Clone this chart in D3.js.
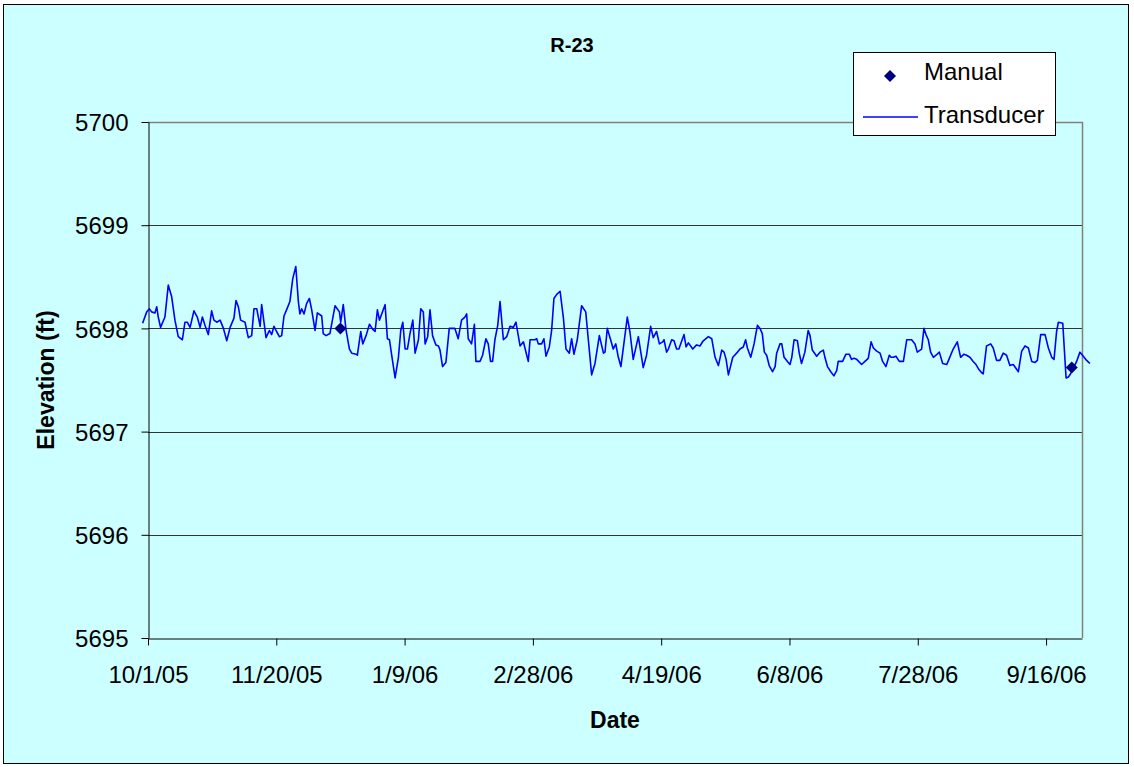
<!DOCTYPE html>
<html>
<head>
<meta charset="utf-8">
<script src="https://cdn.jsdelivr.net/npm/d3@7"></script>
<style>
  html, body { margin: 0; padding: 0; background: #ffffff; }
  svg { display: block; font-family: "Liberation Sans", Arial, sans-serif; }
</style>
</head>
<body>
<svg id="chart" width="1134" height="767"></svg>
<script>
// ---- data ----
const chartTitle = "R-23";
const xTitle = "Date";
const yTitle = "Elevation (ft)";
const startDate = "2005-10-01";          // day 0 of the transducer record
const axisStart = "2005-10-01";
const axisEnd = "2006-09-30";
const xTickDates = ["2005-10-01","2005-11-20","2006-01-09","2006-02-28","2006-04-19","2006-06-08","2006-07-28","2006-09-16"];
const yTickValues = [5695, 5696, 5697, 5698, 5699, 5700];
const seriesNames = ["Manual", "Transducer"];

// manual measurements: [date, elevation ft]
const manual = [["2005-12-15", 5698.00], ["2006-09-26", 5697.62]];

// transducer readings: [days since startDate, elevation ft]
const transducerOct = [[-2.1,5698.05],[-0.5,5698.16],[0.5,5698.19],[1.4,5698.16],[2.7,5698.15],[3.4,5698.21],[4.0,5698.11],[4.9,5698.01],[6.6,5698.11],[7.9,5698.42],[9.2,5698.31],[10.5,5698.08],[11.8,5697.92],[13.4,5697.89],[14.4,5698.06],[15.3,5698.06],[16.4,5698.01],[17.9,5698.17],[19.2,5698.11],[20.3,5698.01],[21.2,5698.11],[22.2,5698.03],[23.5,5697.94],[24.8,5698.17],[25.7,5698.08],[26.8,5698.06],[28.1,5698.08],[29.4,5698.00],[30.7,5697.88],[32.0,5698.01],[33.5,5698.10],[34.3,5698.27],[35.2,5698.21],[36.1,5698.08],[37.8,5698.06],[39.1,5697.91],[40.4,5697.93],[41.3,5698.19],[42.4,5698.19],[43.7,5698.02],[44.3,5698.23],[46.0,5697.91],[47.3,5697.98],[48.2,5697.94],[49.1,5698.02],[50.1,5697.97],[51.2,5697.92],[52.1,5697.93],[53.0,5698.12],[54.0,5698.18],[55.3,5698.26],[56.4,5698.48],[57.6,5698.60],[58.6,5698.26],[59.2,5698.14],[59.9,5698.19],[60.8,5698.14],[61.8,5698.24],[62.9,5698.29],[63.8,5698.18],[65.1,5697.98],[66.0,5698.15],[67.7,5698.12],[68.3,5697.95],[69.4,5697.93]];
const transducerDec = [[70.9,5697.95],[72.9,5698.22],[74.6,5698.16],[75.1,5698.06],[76.1,5698.23],[77.2,5697.98],[78.5,5697.80],[79.4,5697.76],[81.1,5697.75],[81.6,5697.74],[82.9,5697.97],[83.7,5697.85],[85.0,5697.93],[86.3,5698.04],[87.6,5697.99],[88.5,5697.97],[89.4,5698.18],[90.2,5698.08],[92.4,5698.23],[93.3,5697.90],[94.1,5697.89],[95.1,5697.72],[96.3,5697.52],[97.6,5697.72],[98.5,5697.98],[99.3,5698.06],[100.2,5697.80],[101.1,5697.80],[102.1,5697.95],[103.2,5698.08],[104.1,5697.76],[105.4,5697.89],[106.3,5698.19],[107.3,5698.16],[108.0,5697.85],[109.0,5697.92],[109.9,5698.18],[110.9,5697.93],[112.2,5697.84],[113.2,5697.83],[113.8,5697.79],[114.8,5697.63],[116.1,5697.67],[117.4,5698.00],[119.6,5698.00],[120.9,5697.90],[122.2,5698.08],[123.5,5698.11],[124.2,5698.14],[124.8,5697.90],[126.1,5697.85],[127.2,5698.04],[127.8,5697.68],[129.4,5697.68],[130.4,5697.74],[131.7,5697.90],[132.6,5697.85],[133.5,5697.68],[134.3,5697.68],[135.2,5697.89],[136.3,5698.03],[137.2,5698.26],[138.5,5697.89],[139.8,5697.92],[141.1,5698.02],[142.4,5698.01],[143.4,5698.06],[145.0,5697.83],[146.3,5697.87],[147.6,5697.74],[148.2,5697.68],[148.9,5697.89]];
const transducerMar = [[150.8,5697.89],[151.5,5697.90],[152.1,5697.85],[153.4,5697.85],[154.3,5697.90],[155.1,5697.73],[156.4,5697.82],[157.3,5697.98],[158.2,5698.29],[159.3,5698.33],[160.6,5698.36],[161.9,5698.10],[162.9,5697.80],[164.2,5697.76],[165.1,5697.90],[166.0,5697.75],[167.3,5697.89],[169.0,5698.22],[170.6,5698.16],[171.6,5697.89],[172.9,5697.55],[174.2,5697.66],[175.9,5697.93],[177.5,5697.76],[178.1,5697.77],[179.0,5698.00],[180.3,5697.89],[181.3,5697.80],[182.3,5697.85],[183.3,5697.72],[184.3,5697.63],[186.8,5698.11],[187.8,5697.97],[189.1,5697.70],[191.1,5697.92],[193.0,5697.62],[194.3,5697.74],[195.9,5698.02],[196.9,5697.91],[198.2,5697.97],[199.3,5697.85],[200.6,5697.87],[201.1,5697.89],[202.1,5697.77],[202.8,5697.80],[204.1,5697.89],[205.0,5697.88],[206.0,5697.80],[206.9,5697.80],[208.9,5697.94],[209.7,5697.82],[210.6,5697.86],[212.3,5697.80],[213.8,5697.84],[215.1,5697.83],[216.4,5697.88],[218.4,5697.92],[219.7,5697.90],[221.0,5697.72],[222.3,5697.64]];
const transducerMay = [[223.6,5697.79],[224.5,5697.77],[225.3,5697.70],[226.2,5697.55],[227.9,5697.72],[229.4,5697.76],[230.7,5697.80],[232.0,5697.82],[232.9,5697.89],[233.6,5697.81],[234.9,5697.72],[236.2,5697.85],[237.5,5698.03],[238.5,5698.00],[239.4,5697.95],[240.2,5697.77],[241.1,5697.74],[242.1,5697.64],[243.4,5697.58],[244.4,5697.63],[245.0,5697.76],[246.3,5697.85],[247.0,5697.85],[247.9,5697.72],[249.2,5697.68],[250.2,5697.65],[250.9,5697.72],[251.8,5697.89],[253.1,5697.88],[253.8,5697.76],[254.7,5697.66],[256.0,5697.77],[257.3,5697.98],[258.0,5697.93],[258.9,5697.79],[260.6,5697.73],[261.9,5697.77],[263.2,5697.79],[263.8,5697.72],[264.8,5697.63],[266.1,5697.58],[267.3,5697.54],[268.4,5697.59],[269.0,5697.68],[270.7,5697.68],[272.0,5697.75],[273.3,5697.75],[274.2,5697.70],[275.1,5697.71],[276.2,5697.70],[278.1,5697.65],[279.4,5697.68],[280.7,5697.71],[281.8,5697.87],[282.7,5697.81],[284.0,5697.78],[285.3,5697.76],[286.3,5697.68],[287.6,5697.63],[288.9,5697.74],[289.6,5697.72],[290.5,5697.72],[291.5,5697.73],[292.8,5697.68],[294.4,5697.68],[295.7,5697.89]];
const transducerJul = [[297.6,5697.89],[298.9,5697.85],[299.8,5697.77],[301.5,5697.80],[302.4,5698.00],[303.2,5697.94],[304.1,5697.89],[305.0,5697.77],[306.1,5697.72],[307.1,5697.74],[308.4,5697.77],[309.7,5697.66],[311.3,5697.65],[312.3,5697.71],[313.8,5697.80],[315.4,5697.87],[316.7,5697.72],[318.0,5697.75],[319.0,5697.74],[320.3,5697.72],[321.6,5697.68],[322.7,5697.65],[323.6,5697.61],[324.9,5697.57],[325.5,5697.56],[326.8,5697.83],[328.4,5697.85],[329.4,5697.81],[330.7,5697.69],[332.0,5697.69],[333.3,5697.76],[334.6,5697.74],[335.9,5697.64],[337.2,5697.65],[339.2,5697.58],[340.5,5697.78],[341.8,5697.83],[343.1,5697.81],[344.4,5697.68],[345.7,5697.67],[346.6,5697.69],[347.9,5697.94],[349.6,5697.94],[350.9,5697.81],[352.2,5697.72],[353.1,5697.70],[354.1,5697.97],[354.8,5698.06],[356.5,5698.05],[357.8,5697.52],[358.7,5697.53],[359.3,5697.55],[360.6,5697.61],[361.9,5697.68],[363.2,5697.77],[364.5,5697.73],[365.8,5697.69],[367.1,5697.66]];

// ---- layout ----
const W = 1134, H = 767;
const plot = { left: 148, right: 1082, top: 122, bottom: 638 };
const font = '"Liberation Sans", Arial, sans-serif';

const svg = d3.select("#chart");
const parse = d3.utcParse("%Y-%m-%d");
const t0 = parse(startDate);

const x = d3.scaleUtc().domain([parse(axisStart), parse(axisEnd)]).range([plot.left, plot.right]);
const y = d3.scaleLinear().domain([5695, 5700]).range([plot.bottom, plot.top]);

// chart area background + border
svg.append("rect").attr("x", 0).attr("y", 0).attr("width", W).attr("height", H).attr("fill", "#ffffff");
svg.append("rect").attr("x", 3.5).attr("y", 4.5).attr("width", 1125).attr("height", 759)
  .attr("fill", "#CCFFFF").attr("stroke", "#000").attr("stroke-width", 1);

// gridlines
svg.append("g").selectAll("line").data(yTickValues.filter(v => v > 5695 && v < 5700)).join("line")
  .attr("x1", plot.left).attr("x2", plot.right)
  .attr("y1", d => Math.round(y(d)) + 0.5).attr("y2", d => Math.round(y(d)) + 0.5)
  .attr("stroke", "#333333").attr("stroke-width", 1);

// plot border top/right (gray)
svg.append("path")
  .attr("d", `M${plot.left},${plot.top + 0.5}H${plot.right + 0.5}V${plot.bottom}`)
  .attr("fill", "none").attr("stroke", "#808080").attr("stroke-width", 1.5);

// axes
const yAxis = d3.axisLeft(y).tickValues(yTickValues).tickSize(7).tickSizeOuter(0).tickFormat(d3.format("d"));
const gy = svg.append("g").attr("transform", `translate(${plot.left + 0.5},0)`).call(yAxis);
gy.select(".domain").attr("stroke", "#000");
gy.selectAll(".tick line").attr("stroke", "#000");
gy.selectAll(".tick text").attr("x", -20).attr("dy", "0.36em")
  .attr("font-family", font).attr("font-size", 24).attr("fill", "#000");

const xAxis = d3.axisBottom(x).tickValues(xTickDates.map(parse)).tickSize(7).tickSizeOuter(0)
  .tickFormat(d3.utcFormat("%-m/%-d/%y"));
const gx = svg.append("g").attr("transform", `translate(0,${plot.bottom + 0.5})`).call(xAxis);
gx.select(".domain").attr("stroke", "#000");
gx.selectAll(".tick line").attr("stroke", "#000");
gx.selectAll(".tick text").attr("y", 27).attr("dy", "0.71em")
  .attr("font-family", font).attr("font-size", 24).attr("fill", "#000");

// transducer line
const transducer = [].concat(transducerOct, transducerDec, transducerMar, transducerMay, transducerJul);
const line = d3.line()
  .x(d => x(d3.utcMillisecond.offset(t0, d[0] * 864e5)))
  .y(d => y(d[1]));
svg.append("path").datum(transducer).attr("d", line)
  .attr("fill", "none").attr("stroke", "#0000FF").attr("stroke-width", 1.6)
  .attr("stroke-linejoin", "round");

// manual points (square diamonds)
const diamond = d3.symbol().type(d3.symbolSquare).size(72);
svg.append("g").selectAll("path").data(manual).join("path")
  .attr("d", diamond)
  .attr("transform", d => `translate(${x(parse(d[0]))},${y(d[1])}) rotate(45)`)
  .attr("fill", "#000080");

// titles
svg.append("text").attr("x", 572).attr("y", 52).attr("text-anchor", "middle")
  .attr("font-family", font).attr("font-size", 20).attr("font-weight", "bold").text(chartTitle);
svg.append("text").attr("x", (plot.left + plot.right) / 2).attr("y", 728).attr("text-anchor", "middle")
  .attr("font-family", font).attr("font-size", 23).attr("font-weight", "bold").text(xTitle);
svg.append("text").attr("transform", `translate(54,${(plot.top + plot.bottom) / 2}) rotate(-90)`)
  .attr("text-anchor", "middle")
  .attr("font-family", font).attr("font-size", 23).attr("font-weight", "bold").text(yTitle);

// legend
const lg = svg.append("g");
lg.append("rect").attr("x", 853.5).attr("y", 52.5).attr("width", 202).attr("height", 83)
  .attr("fill", "#ffffff").attr("stroke", "#000").attr("stroke-width", 1);
lg.append("path").attr("d", diamond).attr("transform", "translate(890,76) rotate(45)").attr("fill", "#000080");
lg.append("text").attr("x", 924).attr("y", 80).attr("font-family", font).attr("font-size", 24)
  .text(seriesNames[0]);
lg.append("line").attr("x1", 863).attr("x2", 918).attr("y1", 117).attr("y2", 117)
  .attr("stroke", "#0000FF").attr("stroke-width", 1.6);
lg.append("text").attr("x", 924).attr("y", 123).attr("font-family", font).attr("font-size", 24)
  .text(seriesNames[1]);
</script>
</body>
</html>
